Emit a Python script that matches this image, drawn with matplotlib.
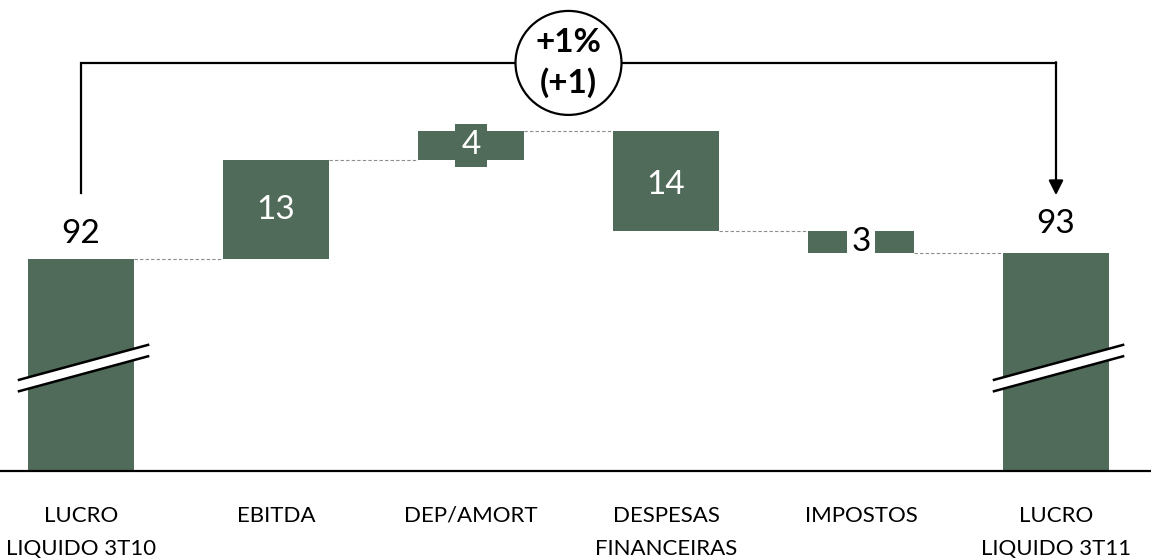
import matplotlib.pyplot as plt
from matplotlib.patches import Ellipse, Polygon
import numpy as np

plt.rcParams['font.family'] = ['Lato', 'DejaVu Sans']

# data
categories = ["LUCRO\nLIQUIDO 3T10", "EBITDA", "DEP/AMORT", "DESPESAS\nFINANCEIRAS",
              "IMPOSTOS", "LUCRO\nLIQUIDO 3T11"]
start_value = 92.4
changes = [13.0, 3.9, -13.2, -2.9]
value_labels = ["92", "13", "4", "14", "3", "93"]
total_label = "+1%\n(+1)"

green = '#506b59'
bar_w = 0.545
floor = 64.5  # axis is broken, bars start here

levels = np.concatenate([[start_value], start_value + np.cumsum(changes)])
end_value = levels[-1]

fig = plt.figure(figsize=(11.51, 5.58), dpi=100)
ax = fig.add_axes([0, 0, 1, 1])
ax.set_xlim(-81 / 195, (1151 - 81) / 195)
ax.set_ylim(start_value - 299 / 7.6, start_value + 259 / 7.6)
ax.axis('off')

x = np.arange(len(categories))

# total bars
ax.bar([x[0], x[-1]], [start_value - floor, end_value - floor], bottom=floor,
       width=bar_w, color=green, zorder=2)

# floating bars
lows = np.minimum(levels[:-1], levels[1:])
highs = np.maximum(levels[:-1], levels[1:])
ax.bar(x[1:-1], highs - lows, bottom=lows, width=bar_w, color=green, zorder=2)

# connectors
for i in range(len(levels)):
    ax.plot([x[i] + bar_w / 2, x[i + 1] - bar_w / 2], [levels[i], levels[i]],
            color='#8c8c8c', lw=0.8, ls=(0, (3, 2)), zorder=1)

# axis line
ax.axhline(floor, color='black', lw=1.6, zorder=3)

# break marks
for xc in [x[0], x[-1]]:
    xl, xr = xc - 0.318, xc + 0.344
    yl, yr = 76.5, 81.1
    gap = 1.5
    ax.add_patch(Polygon([[xl, yl], [xr, yr], [xr, yr - gap], [xl, yl - gap]],
                         closed=True, facecolor='white', edgecolor='none', zorder=4))
    ax.plot([xl, xr], [yl, yr], color='black', lw=1.8, zorder=5)
    ax.plot([xl, xr], [yl - gap, yr - gap], color='black', lw=1.8, zorder=5)

fs = 24
# value labels
ax.annotate(value_labels[0], (x[0], start_value), xytext=(0, 7), textcoords='offset points',
            ha='center', va='bottom', fontsize=fs, color='black')
ax.annotate(value_labels[-1], (x[-1], end_value), xytext=(0, 10), textcoords='offset points',
            ha='center', va='bottom', fontsize=fs, color='black')
mids = (lows + highs) / 2
ax.text(x[1], mids[0], value_labels[1], ha='center', va='center', fontsize=fs,
        color='white', zorder=6)
ax.text(x[2], mids[1], value_labels[2], ha='center', va='center', fontsize=fs,
        color='white', zorder=6,
        bbox=dict(boxstyle='square,pad=0.2', facecolor=green, edgecolor='none'))
ax.text(x[3], mids[2] - 0.6, value_labels[3], ha='center', va='center', fontsize=fs,
        color='white', zorder=6)
ax.text(x[4], mids[3], value_labels[4], ha='center', va='center', fontsize=fs,
        color='black', zorder=6,
        bbox=dict(boxstyle='square,pad=0.12', facecolor='white', edgecolor='none'))

# category labels
for xi, cat in zip(x, categories):
    ax.text(xi, floor - 4.6, cat, ha='center', va='top', fontsize=16,
            linespacing=1.8, color='black')

# bracket with arrow
top = 118.2
ax.plot([x[0], x[0], x[-1]], [101.1, top, top], color='black', lw=1.6, zorder=3,
        solid_joinstyle='miter')
ax.annotate('', xy=(x[-1], 100.8), xytext=(x[-1], top + 0.1),
            arrowprops=dict(arrowstyle='-|>', color='black', lw=1.6, mutation_scale=22,
                            shrinkA=0, shrinkB=0), zorder=3)
cx = 2.5
ax.add_patch(Ellipse((cx, top), 106 / 195, 104 / 7.6, facecolor='white', edgecolor='black',
                     lw=1.6, zorder=6))
ax.text(cx, top, total_label, ha='center', va='center', fontsize=24, fontweight='bold',
        linespacing=1.4, zorder=7)

fig.savefig('out.png', dpi=100)
